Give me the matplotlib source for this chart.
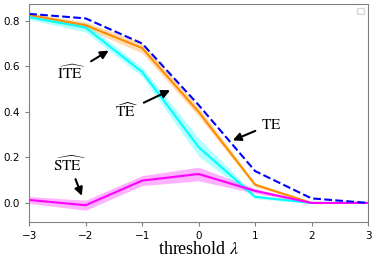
import numpy as np
import matplotlib
matplotlib.use("Agg")
import matplotlib.pyplot as plt

plt.rcParams['mathtext.fontset'] = 'stix'
plt.rcParams['font.serif'] = ['Liberation Serif', 'DejaVu Serif']

# threshold values
lam = [-3, -2, -1, 0, 1, 2, 3]

# true effect (dashed)
te = [0.83, 0.81, 0.70, 0.43, 0.14, 0.02, 0.0]

# estimated total effect and its spread
te_hat = [0.825, 0.78, 0.68, 0.40, 0.08, 0.0, 0.0]
te_hat_sd = [0.008, 0.015, 0.022, 0.02, 0.008, 0.003, 0.002]

# estimated indirect effect
ite_hat = [0.815, 0.77, 0.575, 0.245, 0.027, 0.0, 0.0]
ite_hat_sd = [0.01, 0.02, 0.02, 0.04, 0.008, 0.003, 0.002]

# estimated spillover effect
ste_hat = [0.013, -0.01, 0.098, 0.127, 0.053, 0.0, 0.0]
ste_hat_sd = [0.015, 0.022, 0.022, 0.03, 0.01, 0.003, 0.002]

fig, ax = plt.subplots(figsize=(3.74, 2.57), dpi=100)
fig.subplots_adjust(left=0.078, right=0.984, top=0.986, bottom=0.135)

x = np.array(lam)

def band(y, sd, color):
    y = np.array(y)
    sd = np.array(sd)
    ax.fill_between(x, y - sd, y + sd, color=color, alpha=0.3, lw=0)

band(te_hat, te_hat_sd, 'darkorange')
band(ite_hat, ite_hat_sd, 'cyan')
band(ste_hat, ste_hat_sd, 'magenta')

ax.plot(x, te_hat, color='darkorange', lw=1.5)
ax.plot(x, ite_hat, color='cyan', lw=1.5)
ax.plot(x, ste_hat, color='magenta', lw=1.5)
ax.plot(x, te, color='blue', lw=1.5, linestyle='--')

arrow = dict(arrowstyle='-|>', color='black', lw=1.5, mutation_scale=12)
ax.annotate(r'$\widehat{\mathrm{ITE}}$', xy=(-1.55, 0.675), xytext=(-2.25, 0.57),
            ha='center', va='center', fontsize=11, arrowprops=arrow)
ax.annotate(r'$\widehat{\mathrm{TE}}$', xy=(-0.46, 0.50), xytext=(-1.27, 0.405),
            ha='center', va='center', fontsize=11, arrowprops=arrow)
ax.annotate(r'$\mathrm{TE}$', xy=(0.56, 0.27), xytext=(1.28, 0.345),
            ha='center', va='center', fontsize=11, arrowprops=arrow)
ax.annotate(r'$\widehat{\mathrm{STE}}$', xy=(-2.05, 0.02), xytext=(-2.28, 0.17),
            ha='center', va='center', fontsize=11, arrowprops=arrow)

ax.set_xlim(-3, 3)
ax.set_ylim(-0.085, 0.875)
ax.set_xticks(lam)
ax.set_yticks([0.0, 0.2, 0.4, 0.6, 0.8])
ax.tick_params(labelsize=7.5, color='gray', length=3)
for s in ax.spines.values():
    s.set_color('gray')

ax.set_xlabel(r'threshold $\lambda$', fontsize=13, family='serif', labelpad=0)
ax.legend(handles=[], loc='upper right', fontsize=6)

fig.savefig('out.png', dpi=100)
